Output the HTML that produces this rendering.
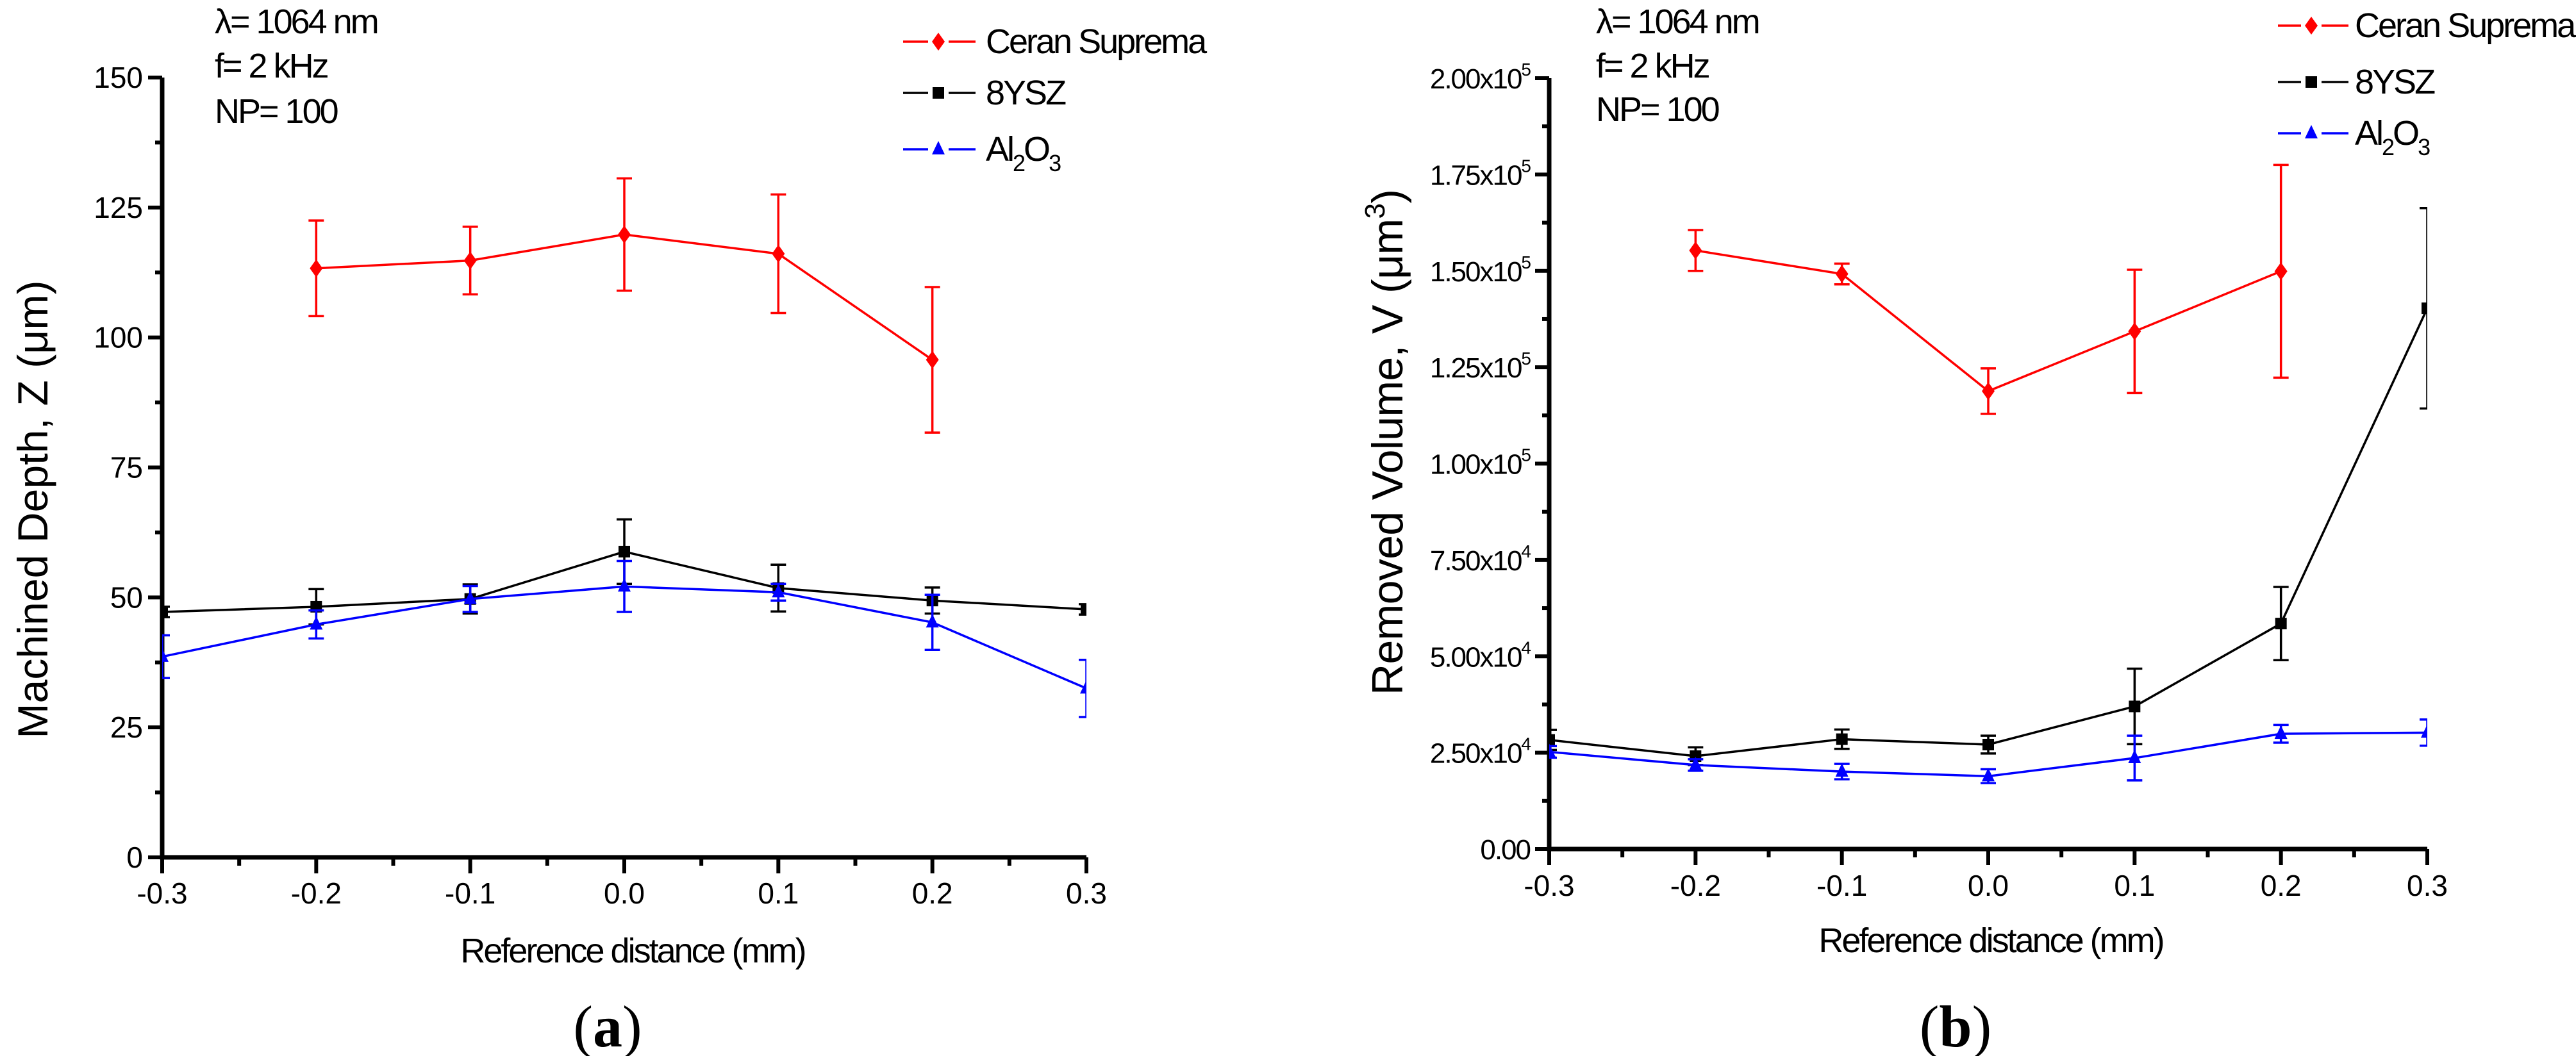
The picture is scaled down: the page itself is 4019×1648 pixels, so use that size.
<!DOCTYPE html>
<html><head><meta charset="utf-8"><style>
html,body{margin:0;padding:0;background:#fff;}
svg{display:block;}
text{font-family:"Liberation Sans",sans-serif;}
</style></head><body>
<svg id="fig" width="4019" height="1648" viewBox="0 0 4019 1648" xmlns="http://www.w3.org/2000/svg"></svg>
<script>
// ---- Data ----
const xCats = [-0.3,-0.2,-0.1,0.0,0.1,0.2,0.3];
const xTickLabels = ["-0.3","-0.2","-0.1","0.0","0.1","0.2","0.3"];
// Panel (a) depth (µm)
const depthCeranX = [-0.2,-0.1,0.0,0.1,0.2];
const depthCeran = [113.3,114.8,119.8,116.1,95.7];
const depthCeranErr = [9.2,6.5,10.8,11.4,14.0];
const depthYsz = [47.2,48.2,49.7,58.8,51.8,49.4,47.7];
const depthYszErr = [1.0,3.4,2.8,6.2,4.5,2.5,1.0];
const depthAl = [38.6,44.8,49.7,52.1,51.0,45.2,32.5];
const depthAlErr = [4.1,2.7,2.5,4.9,1.6,5.3,5.5];
const depthTicks = [0,25,50,75,100,125,150];
// Panel (b) volume (µm^3)
const volCeranX = [-0.2,-0.1,0.0,0.1,0.2];
const volCeran = [155300,149200,118800,134300,149900];
const volCeranErr = [5300,2700,5900,16000,27600];
const volYsz = [28300,24100,28500,27100,37000,58500,140300];
const volYszErr = [2600,2300,2500,2300,9800,9500,26000];
const volAl = [25200,21800,20100,18900,23600,29900,30200];
const volAlErr = [1500,1500,2000,1800,5800,2300,3400];
const volTicks = [0,25000,50000,75000,100000,125000,150000,175000,200000];
const volTickMant = ["0.00","2.50","5.00","7.50","1.00","1.25","1.50","1.75","2.00"];
const volTickExp = ["","4","4","4","5","5","5","5","5"];

const NS="http://www.w3.org/2000/svg";
const svg=document.getElementById('fig');
function mk(tag,attrs,parent){const e=document.createElementNS(NS,tag);for(const k in attrs)e.setAttribute(k,attrs[k]);(parent||svg).appendChild(e);return e;}
function txt(s,attrs,parent){const t=mk('text',attrs,parent);t.textContent=s;return t;}

function panel(P){
  const g=mk('g',{});
  
  
  const sx=v=>P.x0+(v-(-0.3))/0.6*(P.x1-P.x0);
  const sy=v=>P.y0-(v-P.ymin)/(P.ymax-P.ymin)*(P.y0-P.y1);
  const cid=P.name+'-clip';
  const defs=mk('defs',{},g);const cp=mk('clipPath',{id:cid},defs);
  mk('rect',{x:P.x0,y:0,width:P.x1-P.x0,height:1648},cp);
  const ax=mk('path',{d:`M${P.x0},${P.y1} V${P.y0} H${P.x1}`,fill:'none',stroke:'#000','stroke-width':7},g);
  
  
  mk('line',{x1:P.x0-22,y1:P.y1,x2:P.x0,y2:P.y1,stroke:'#000','stroke-width':6},g);
  xCats.forEach((v,i)=>{
    const X=sx(v);
    mk('line',{x1:X,y1:P.y0,x2:X,y2:P.y0+25,stroke:'#000','stroke-width':6},g);
    const t=txt(xTickLabels[i],{x:X,y:P.xLabY,'font-size':46,'text-anchor':'middle'},g);
    
    
    if(i<xCats.length-1){const m=sx(v+0.05);mk('line',{x1:m,y1:P.y0,x2:m,y2:P.y0+13,stroke:'#000','stroke-width':6},g);}
  });
  P.ticks.forEach((v,i)=>{
    const Y=sy(v);
    mk('line',{x1:P.x0-22,y1:Y,x2:P.x0,y2:Y,stroke:'#000','stroke-width':6},g);
    if(i<P.ticks.length-1){const m=sy(v+(P.ticks[1]-P.ticks[0])/2);mk('line',{x1:P.x0-11,y1:m,x2:P.x0,y2:m,stroke:'#000','stroke-width':6},g);}
    const t=P.tickText(i,P.x0-30,Y+16,g);
    
    
  });
  P.series.forEach(s=>{
    const sg=mk('g',{'clip-path':`url(#${cid})`},g);
    
    
    const pts=s.x.map((x,i)=>[sx(x),sy(s.y[i])]);
    mk('polyline',{points:pts.map(p=>p.join(',')).join(' '),fill:'none',stroke:s.color,'stroke-width':3.5},sg);
    s.x.forEach((x,i)=>{
      const X=sx(x),hi=sy(s.y[i]+s.e[i]),lo=sy(s.y[i]-s.e[i]);
      const eb=mk('path',{d:`M${X},${hi}V${lo}M${X-12},${hi}H${X+12}M${X-12},${lo}H${X+12}`,stroke:s.color,'stroke-width':3.5,fill:'none'},sg);
      
      
    });
    pts.forEach(p=>{const m=marker(s.shape,p[0],p[1],s.color,sg);
      
      });
  });
  return g;
}
function marker(shape,X,Y,c,parent){
  if(shape==='diamond')return mk('path',{d:`M${X},${Y-14}L${X+10},${Y}L${X},${Y+14}L${X-10},${Y}Z`,fill:c},parent);
  if(shape==='square')return mk('rect',{x:X-9,y:Y-9,width:18,height:18,fill:c},parent);
  return mk('path',{d:`M${X},${Y-13}L${X+10},${Y+8}L${X-10},${Y+8}Z`,fill:c},parent);
}

panel({name:'panel-a-depth',x0:253,x1:1695,y0:1338,y1:121,ymin:0,ymax:150,xLabY:1410,ticks:depthTicks,
  tickText:(i,x,y,g)=>txt(String(depthTicks[i]),{x:x,y:y,'font-size':46,'text-anchor':'end'},g),
  series:[
    {name:'series-ceran-suprema',x:depthCeranX,y:depthCeran,e:depthCeranErr,color:'#ff0000',shape:'diamond'},
    {name:'series-8ysz',x:xCats,y:depthYsz,e:depthYszErr,color:'#000000',shape:'square'},
    {name:'series-al2o3',x:xCats,y:depthAl,e:depthAlErr,color:'#0000ff',shape:'triangle'}]});

panel({name:'panel-b-volume',x0:2417,x1:3787,y0:1325,y1:122,ymin:0,ymax:200000,xLabY:1398,ticks:volTicks,
  tickText:(i,x,y,g)=>{const t=txt('',{x:x,y:y,'font-size':44,'text-anchor':'end','letter-spacing':-2},g);
    if(volTickExp[i]){const a=mk('tspan',{},t);a.textContent=volTickMant[i]+'x10';const b=mk('tspan',{'font-size':28,dy:-20},t);b.textContent=volTickExp[i];}
    else t.textContent=volTickMant[i];return t;},
  series:[
    {name:'series-ceran-suprema',x:volCeranX,y:volCeran,e:volCeranErr,color:'#ff0000',shape:'diamond'},
    {name:'series-8ysz',x:xCats,y:volYsz,e:volYszErr,color:'#000000',shape:'square'},
    {name:'series-al2o3',x:xCats,y:volAl,e:volAlErr,color:'#0000ff',shape:'triangle'}]});

[[335,'panel-a'],[2490,'panel-b']].forEach(([x,n],k)=>{
  const ys=k===0?[52,121,192]:[52,121,189];
  ['λ= 1064 nm','f= 2 kHz','NP= 100'].forEach((s,j)=>{
    const t=txt(s,{x:x,y:ys[j],'font-size':54,'letter-spacing':-3},svg);
    
    
  });
});
function legend(lx0,lx1,mx,tx,rows){
  const items=[['Ceran Suprema','#ff0000','diamond'],['8YSZ','#000000','square'],['Al2O3','#0000ff','triangle']];
  items.forEach((it,i)=>{
    const g=mk('g',{});
    
    
    const y=rows[i];
    mk('line',{x1:lx0,y1:y,x2:mx-16,y2:y,stroke:it[1],'stroke-width':3.5},g);
    mk('line',{x1:mx+16,y1:y,x2:lx1,y2:y,stroke:it[1],'stroke-width':3.5},g);
    marker(it[2],mx,y,it[1],g);
    const t=txt('',{x:tx,y:y+18,'font-size':54,'letter-spacing':-3},g);
    if(it[0]==='Al2O3'){
      const a=mk('tspan',{},t);a.textContent='Al';
      const b=mk('tspan',{'font-size':36,dy:16},t);b.textContent='2';
      const c=mk('tspan',{dy:-16},t);c.textContent='O';
      const d=mk('tspan',{'font-size':36,dy:16},t);d.textContent='3';
    } else t.textContent=it[0];
  });
}
legend(1409,1522,1464,1538,[65,145,233]);
legend(3554,3664,3606,3674,[40,128,208]);

function title(s,attrs,name){
  const t=txt(s,attrs,svg);
  
  
  return t;
}
title('Reference distance (mm)',{x:987,y:1502,'font-size':54,'text-anchor':'middle','letter-spacing':-3},'x-axis-title-a');
title('Reference distance (mm)',{x:3106,y:1486,'font-size':54,'text-anchor':'middle','letter-spacing':-3},'x-axis-title-b');
title('Machined Depth, Z (μm)',{x:0,y:0,'font-size':66,'text-anchor':'middle',transform:'translate(74,795) rotate(-90)',textLength:715},'y-axis-title-a');
const yt=title('',{x:0,y:0,'font-size':68,'text-anchor':'middle',transform:'translate(2188,690) rotate(-90)',textLength:790},'y-axis-title-b');
{const a=mk('tspan',{},yt);a.textContent='Removed Volume, V (μm';const b=mk('tspan',{'font-size':44,dy:-28},yt);b.textContent='3';const c=mk('tspan',{dy:28},yt);c.textContent=')';}
[['(a)',948,'caption-a'],['(b)',3051,'caption-b']].forEach(([s,x,n])=>{
  const t=txt('',{x:x,y:1633,'font-size':92,'text-anchor':'middle',style:'font-family:"Liberation Serif",serif'},svg);
  const p1=mk('tspan',{},t);p1.textContent='(';
  const p2=mk('tspan',{'font-weight':'bold'},t);p2.textContent=s[1];
  const p3=mk('tspan',{},t);p3.textContent=')';
  
  
});
</script>
</body></html>
